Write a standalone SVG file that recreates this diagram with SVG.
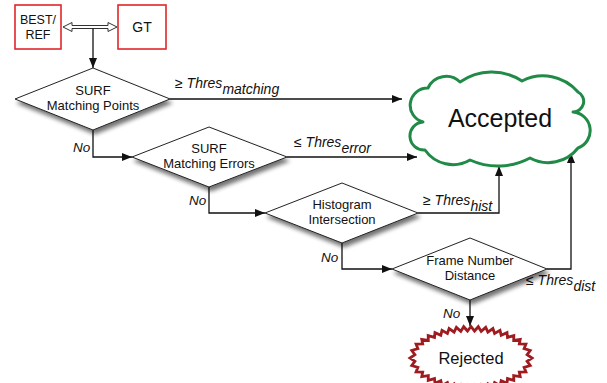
<svg xmlns="http://www.w3.org/2000/svg" width="607" height="383" viewBox="0 0 607 383">
<style>
.box{fill:#fff;stroke:#e0262a;stroke-width:1.6}
.dia{fill:#fff;stroke:#222;stroke-width:1}
.t{font-family:"Liberation Sans",Arial,sans-serif;fill:#111;text-anchor:middle}
.dt{font-size:13px}
.lbl{font-family:"Liberation Sans",Arial,sans-serif;fill:#111;font-size:14px}
.it{font-style:italic}
.no{font-family:"Liberation Sans",Arial,sans-serif;fill:#111;font-size:13.5px;font-style:italic}
.edge{fill:none;stroke:#111;stroke-width:1.3}
</style>
<defs>
<marker id="ah" viewBox="0 0 10 8" refX="10" refY="4" markerWidth="10" markerHeight="8" markerUnits="userSpaceOnUse" orient="auto">
<path d="M0,0 L10,4 L0,8 Z" fill="#111"/>
</marker>
<filter id="sh" x="-20%" y="-20%" width="150%" height="160%">
<feGaussianBlur in="SourceAlpha" stdDeviation="2"/>
<feOffset dx="2" dy="4" result="b"/>
<feComponentTransfer><feFuncA type="linear" slope="0.55"/></feComponentTransfer>
<feMerge><feMergeNode/><feMergeNode in="SourceGraphic"/></feMerge>
</filter>
</defs>
<rect width="607" height="383" fill="#fff"/>

<g id="best-ref">
<rect class="box" x="15" y="5" width="46" height="44"/>
<text class="t" x="38" y="24" font-size="12.5">BEST/</text>
<text class="t" x="38" y="39" font-size="12.5">REF</text>
</g>
<g id="gt">
<rect class="box" x="118" y="5" width="48" height="44"/>
<text class="t" x="142" y="32" font-size="14">GT</text>
</g>

<g id="connectors">
<polygon points="63,27 72,22.5 72,25.5 108,25.5 108,22.5 117,27 108,31.5 108,28.5 72,28.5 72,31.5" fill="#fff" stroke="#333" stroke-width="1"/>
<path class="edge" d="M93,28.5 V68" marker-end="url(#ah)"/>
<path class="edge" d="M170,99 H402" marker-end="url(#ah)"/>
<path class="edge" d="M93,130 V157 H132" marker-end="url(#ah)"/>
<path class="edge" d="M287,157 H417" marker-end="url(#ah)"/>
<path class="edge" d="M209,187 V213 H265" marker-end="url(#ah)"/>
<path class="edge" d="M418,213 H499 V166" marker-end="url(#ah)"/>
<path class="edge" d="M342,243 V269 H392" marker-end="url(#ah)"/>
<path class="edge" d="M547,269 H571 V153" marker-end="url(#ah)"/>
<path class="edge" d="M470,300 V326" marker-end="url(#ah)"/>
<text class="lbl" x="175" y="88">≥ <tspan class="it">Thres</tspan><tspan class="it" dy="6">matching</tspan></text>
<text class="lbl" x="294" y="147">≤ <tspan class="it">Thres</tspan><tspan class="it" dy="6">error</tspan></text>
<text class="lbl" x="423" y="205">≥ <tspan class="it">Thres</tspan><tspan class="it" dy="6">hist</tspan></text>
<text class="lbl" x="526" y="285">≤ <tspan class="it">Thres</tspan><tspan class="it" dy="6">dist</tspan></text>
<text class="no" x="73" y="152">No</text>
<text class="no" x="189" y="205">No</text>
<text class="no" x="321" y="262">No</text>
<text class="no" x="443" y="318">No</text>
</g>

<g id="surf-points">
<polygon class="dia" filter="url(#sh)" points="93,68 170,99 93,130 15,99"/>
<text class="t dt" x="93" y="95">SURF</text>
<text class="t dt" x="93" y="110">Matching Points</text>
</g>
<g id="surf-errors">
<polygon class="dia" filter="url(#sh)" points="209,127 287,157 209,187 132,157"/>
<text class="t dt" x="209" y="153">SURF</text>
<text class="t dt" x="209" y="168">Matching Errors</text>
</g>
<g id="histogram">
<polygon class="dia" filter="url(#sh)" points="342,183 418,213 342,243 265,213"/>
<text class="t dt" x="342" y="209">Histogram</text>
<text class="t dt" x="342" y="224">Intersection</text>
</g>
<g id="frame-distance">
<polygon class="dia" filter="url(#sh)" points="470,238 547,269 470,300 392,269"/>
<text class="t dt" x="470" y="265">Frame Number</text>
<text class="t dt" x="470" y="280">Distance</text>
</g>

<g id="accepted">
<path d="M423,122 A17.3,17.3 0 0 1 428,88 A20,20 0 0 1 460,82 A55,55 0 0 1 522,81 A45.6,45.6 0 0 1 578,92 A10.6,10.6 0 0 1 573,112 A18.6,18.6 0 0 1 578,148 A37.8,37.8 0 0 1 530,158 A67.8,67.8 0 0 1 470,160 A34,34 0 0 1 425,150 A14,14 0 0 1 423,122 Z" fill="#fff" stroke="#1f8b47" stroke-width="3" stroke-linejoin="round"/>
<text class="t" x="500" y="127" font-size="25">Accepted</text>
</g>

<g id="rejected">
<polygon fill="#fff" stroke="#9e1b1f" stroke-width="2.8" stroke-linejoin="miter" points="532,358 527.1,361.3 530.2,365.5 524.1,367.3 525.9,371.8 519.3,372 520.2,376.6 513.7,375.7 513.8,380.4 507.5,378.6 507,383.4 501.2,380.8 500,385.7 494.6,382.5 492.9,387.4 487.9,383.8 485.7,388.6 481.2,384.6 478.3,389.3 474.5,385 471,389.5 467.5,385 463.7,389.3 460.8,384.6 456.4,388.6 454.1,383.8 449.1,387.4 447.4,382.5 442,385.7 440.8,380.8 435,383.4 434.5,378.6 428.2,380.4 428.3,375.7 421.8,376.6 422.7,372 416.1,371.8 417.9,367.3 411.8,365.5 414.9,361.3 410,358 414.9,354.7 411.8,350.5 417.9,348.7 416.1,344.2 422.7,344 421.8,339.4 428.3,340.3 428.2,335.6 434.5,337.4 435,332.6 440.8,335.2 442,330.3 447.4,333.5 449.1,328.6 454.1,332.2 456.4,327.4 460.8,331.4 463.7,326.7 467.5,331 471,326.5 474.5,331 478.3,326.7 481.2,331.4 485.7,327.4 487.9,332.2 492.9,328.6 494.6,333.5 500,330.3 501.2,335.2 507,332.6 507.5,337.4 513.8,335.6 513.7,340.3 520.2,339.4 519.3,344 525.9,344.2 524.1,348.7 530.2,350.5 527.1,354.7"/>
<text class="t" x="471" y="364" font-size="16.5">Rejected</text>
</g>
</svg>
